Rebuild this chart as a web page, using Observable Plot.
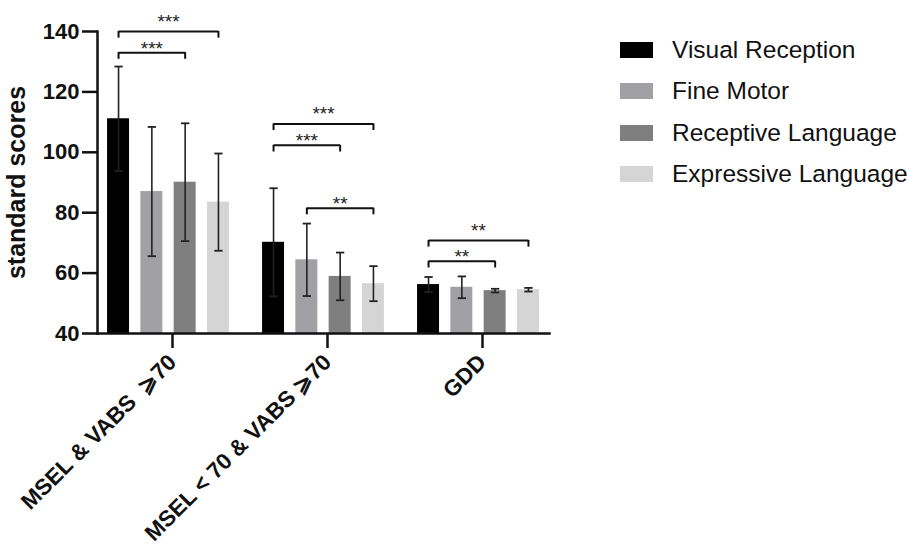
<!DOCTYPE html>
<html>
<head>
<meta charset="utf-8">
<script src="https://cdn.jsdelivr.net/npm/d3@7"></script>
<script src="https://cdn.jsdelivr.net/npm/@observablehq/plot@0.6"></script>
<style>
  html, body { margin: 0; padding: 0; background: #fff; }
  #wrap { position: relative; width: 909px; height: 548px; font-family: "Liberation Sans", Arial, sans-serif; }
  #legend { position: absolute; left: 620px; top: 29px; }
  .row { display: flex; align-items: center; height: 41.5px; }
  .sw { width: 33px; height: 16px; margin-right: 19px; }
  .lab { font-size: 24.5px; color: #111; white-space: nowrap; }
</style>
</head>
<body>
<div id="wrap"><div id="legend"></div></div>
<script>
const groups = ["MSEL & VABS  \u2A7E70", "MSEL < 70 & VABS \u2A7E70", "GDD"];
const series = ["Visual Reception", "Fine Motor", "Receptive Language", "Expressive Language"];
const colors = ["#000000", "#a1a1a5", "#7f7f7f", "#d5d5d5"];
const meanValues = [
  [111.1, 87.0, 90.1, 83.5],
  [70.2, 64.4, 58.9, 56.5],
  [56.2, 55.3, 54.2, 54.5]
];
const sdValues = [
  [17.3, 21.4, 19.5, 16.1],
  [17.9, 12.0, 7.9, 5.8],
  [2.5, 3.6, 0.6, 0.6]
];
const yTicks = [40, 60, 80, 100, 120, 140];
const bracketGroup = [0, 0, 1, 1, 1, 2, 2];
const bracketFrom  = [0, 0, 0, 0, 1, 0, 0];
const bracketTo    = [3, 2, 3, 2, 3, 3, 2];
const bracketY     = [140, 133, 109.4, 102.3, 81.5, 70.8, 63.9];
const bracketStars = ["***", "***", "***", "***", "**", "**", "**"];

const rows = groups.flatMap((g, gi) => series.map((s, si) => ({
  group: g, series: s, si, mean: meanValues[gi][si], sd: sdValues[gi][si]
})));
const br = bracketY.map((y, i) => ({
  group: groups[bracketGroup[i]], from: bracketFrom[i], to: bracketTo[i], y, stars: bracketStars[i]
}));

const barHalf = 0.33, capHalf = 0.125, drop = 2.2;
const ink = "#111";

const chart = Plot.plot({
  width: 909, height: 548,
  marginLeft: 97, marginRight: 360, marginTop: 31, marginBottom: 215,
  style: { fontFamily: "'Liberation Sans', Arial, sans-serif", color: "#000", background: "transparent", overflow: "visible" },
  fx: { domain: groups, paddingInner: 0.084, paddingOuter: 0 },
  x: { domain: [-0.632, 3.632], axis: null },
  y: { domain: [40, 140] },
  color: { domain: series, range: colors },
  marks: [
    Plot.rectY(rows, { fx: "group", x1: d => d.si - barHalf, x2: d => d.si + barHalf, y1: 40, y2: "mean", fill: "series" }),
    Plot.ruleX(rows, { fx: "group", x: "si", y1: d => d.mean - d.sd, y2: d => d.mean + d.sd, stroke: "#222", strokeWidth: 1.6 }),
    Plot.link(rows, { fx: "group", x1: d => d.si - capHalf, x2: d => d.si + capHalf, y1: d => d.mean + d.sd, y2: d => d.mean + d.sd, stroke: "#222", strokeWidth: 1.8 }),
    Plot.link(rows, { fx: "group", x1: d => d.si - capHalf, x2: d => d.si + capHalf, y1: d => d.mean - d.sd, y2: d => d.mean - d.sd, stroke: "#222", strokeWidth: 1.8 }),
    Plot.link(br, { fx: "group", x1: "from", x2: "to", y1: "y", y2: "y", stroke: ink, strokeWidth: 2 }),
    Plot.ruleX(br, { fx: "group", x: "from", y1: "y", y2: d => d.y - drop, stroke: ink, strokeWidth: 2 }),
    Plot.ruleX(br, { fx: "group", x: "to", y1: "y", y2: d => d.y - drop, stroke: ink, strokeWidth: 2 }),
    Plot.text(br, { filter: d => d.to - d.from === 3, fx: "group", x: d => (d.from + d.to) / 2, y: "y", text: "stars", dy: -9.8, fontSize: 19, fill: "#222" }),
    Plot.text(br, { filter: d => d.to - d.from !== 3, fx: "group", x: d => (d.from + d.to) / 2, y: "y", text: "stars", dy: -4, fontSize: 19, fill: "#222" }),
    Plot.frame({ anchor: "bottom", facet: "super", stroke: ink, strokeWidth: 2.5 }),
    Plot.frame({ anchor: "left", facet: "super", stroke: ink, strokeWidth: 2.5 }),
    Plot.axisY({ ticks: yTicks, tickSize: 15, tickPadding: 3, fontSize: 22, fontWeight: "bold", strokeWidth: 2.5, stroke: ink, fill: ink, label: null }),
    Plot.axisY({ ticks: [], label: "standard scores", labelAnchor: "center", labelOffset: 90, labelArrow: "none", fontSize: 25, fontWeight: "bold", fill: ink }),
    Plot.axisFx({ anchor: "bottom", tickRotate: -45, tickSize: 15, tickPadding: 10, fontSize: 22.5, fontWeight: "bold", strokeWidth: 2.5, stroke: ink, fill: ink, label: null, dx: 4 })
  ]
});
document.getElementById("wrap").prepend(chart);

const legend = document.getElementById("legend");
series.forEach((s, i) => {
  const row = document.createElement("div");
  row.className = "row";
  const sw = document.createElement("div");
  sw.className = "sw";
  sw.style.background = colors[i];
  const lab = document.createElement("span");
  lab.className = "lab";
  lab.textContent = s;
  row.append(sw, lab);
  legend.append(row);
});
</script>
</body>
</html>
